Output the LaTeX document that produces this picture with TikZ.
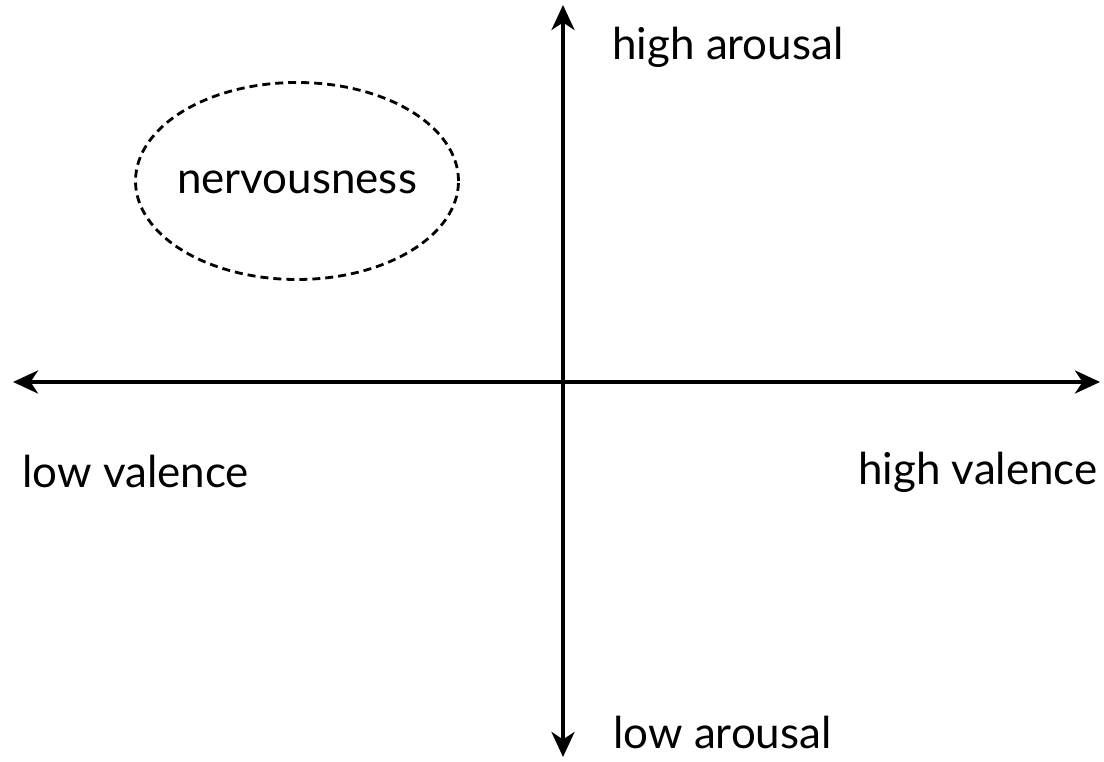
\documentclass[tikz,border=0pt]{standalone}
\usepackage{fontspec}
\setmainfont{Lato}
\usetikzlibrary{arrows.meta,positioning}
\tikzset{
  axlab/.style={font=\fontsize{25}{29}\selectfont, inner sep=0pt},
  axarr/.style={{Stealth[length=5mm,width=4.6mm,inset=1.5mm]}-{Stealth[length=5mm,width=4.6mm,inset=1.5mm]}, line width=2.2pt},
  moodell/.style={dash pattern=on 1.6mm off 1mm, line width=1.6pt}
}

\begin{document}
\begin{tikzpicture}
\useasboundingbox (0,0) rectangle (22.08,15.24);
% axes
\coordinate (lv) at (0.26,7.6);
\coordinate (hv) at (22.0,7.6);
\coordinate (ha) at (11.26,15.14);
\coordinate (la) at (11.26,0.1);
\draw[axarr] (lv) -- (hv);
\draw[axarr] (la) -- (ha);
% labels
\node[axlab, anchor=west] (hal) at (12.24,14.3) {high arousal};
\node[axlab, anchor=west] (lal) at (12.26,0.6) {low arousal};
\node[axlab, anchor=west] (lvl) at (0.44,5.8) {low valence};
\node[axlab, anchor=east] (hvl) at (21.96,5.8) {high valence};
% region
\node[axlab] (nerv) at (5.94,11.6) {nervousness};
\draw[moodell] (5.94,11.62) ellipse [x radius=3.23cm, y radius=1.97cm];
\end{tikzpicture}
\end{document}
